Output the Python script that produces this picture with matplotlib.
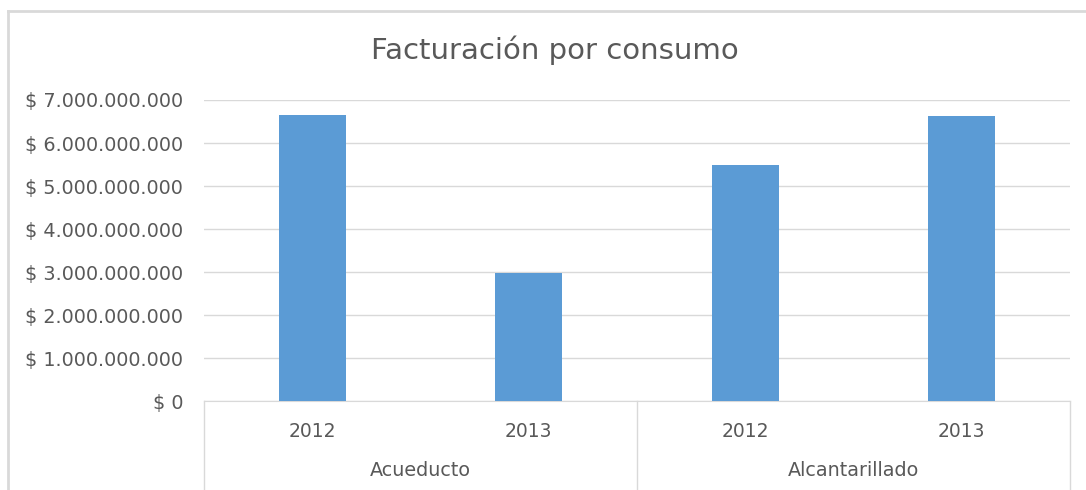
import matplotlib.pyplot as plt
from matplotlib.ticker import FuncFormatter
from matplotlib.lines import Line2D

grupos = ["Acueducto", "Alcantarillado"]
anios = ["2012", "2013"]
acueducto = [6.65e9, 2.97e9]
alcantarillado = [5.48e9, 6.62e9]

valores = acueducto + alcantarillado
etiquetas = anios + anios

gris = "#595959"
linea = "#d9d9d9"

plt.rcParams['font.family'] = ['DejaVu Sans']

fig = plt.figure(figsize=(10.86, 4.9), dpi=100)
W, H = 1086, 490
ax = fig.add_axes([204 / W, 1 - 401 / H, (1070 - 204) / W, (401 - 100) / H])

x = range(len(valores))
ax.bar(x, valores, width=0.31, color="#5b9bd5", zorder=3)

ax.set_xlim(-0.5, len(valores) - 0.5)
ax.set_ylim(0, 7e9)
ax.set_yticks([i * 1e9 for i in range(8)])
ax.yaxis.set_major_formatter(FuncFormatter(lambda v, p: "$ " + f"{v:,.0f}".replace(",", ".")))
ax.tick_params(axis="y", length=0, labelsize=13.8, labelcolor=gris, pad=15)
ax.set_xticks([])
ax.grid(axis="y", color=linea, linewidth=1, zorder=0)
for s in ["top", "right", "left"]:
    ax.spines[s].set_visible(False)
ax.spines["bottom"].set_color(linea)

# eje de categorías en dos niveles
for i, lab in enumerate(etiquetas):
    ax.text(i, -0.1, lab, transform=ax.get_xaxis_transform(), ha="center", va="center",
            fontsize=13.5, color=gris)
for j, g in enumerate(grupos):
    ax.text(2 * j + 0.5, -0.23, g, transform=ax.get_xaxis_transform(), ha="center", va="center",
            fontsize=13.8, color=gris)
for xs in [-0.5, 1.5, 3.5]:
    ax.plot([xs, xs], [0, -0.35], transform=ax.get_xaxis_transform(), color=linea,
            linewidth=1, clip_on=False)

fig.text(555 / W, 1 - 50 / H, "Facturación por consumo", ha="center", va="center",
         fontsize=21, color=gris)

# borde del gráfico
fig.add_artist(Line2D([8 / W, 8 / W], [0, 1 - 11 / H], transform=fig.transFigure, color=linea, linewidth=2))
fig.add_artist(Line2D([8 / W, 1], [1 - 11 / H, 1 - 11 / H], transform=fig.transFigure, color=linea, linewidth=2))

fig.savefig("out.png", dpi=100)
